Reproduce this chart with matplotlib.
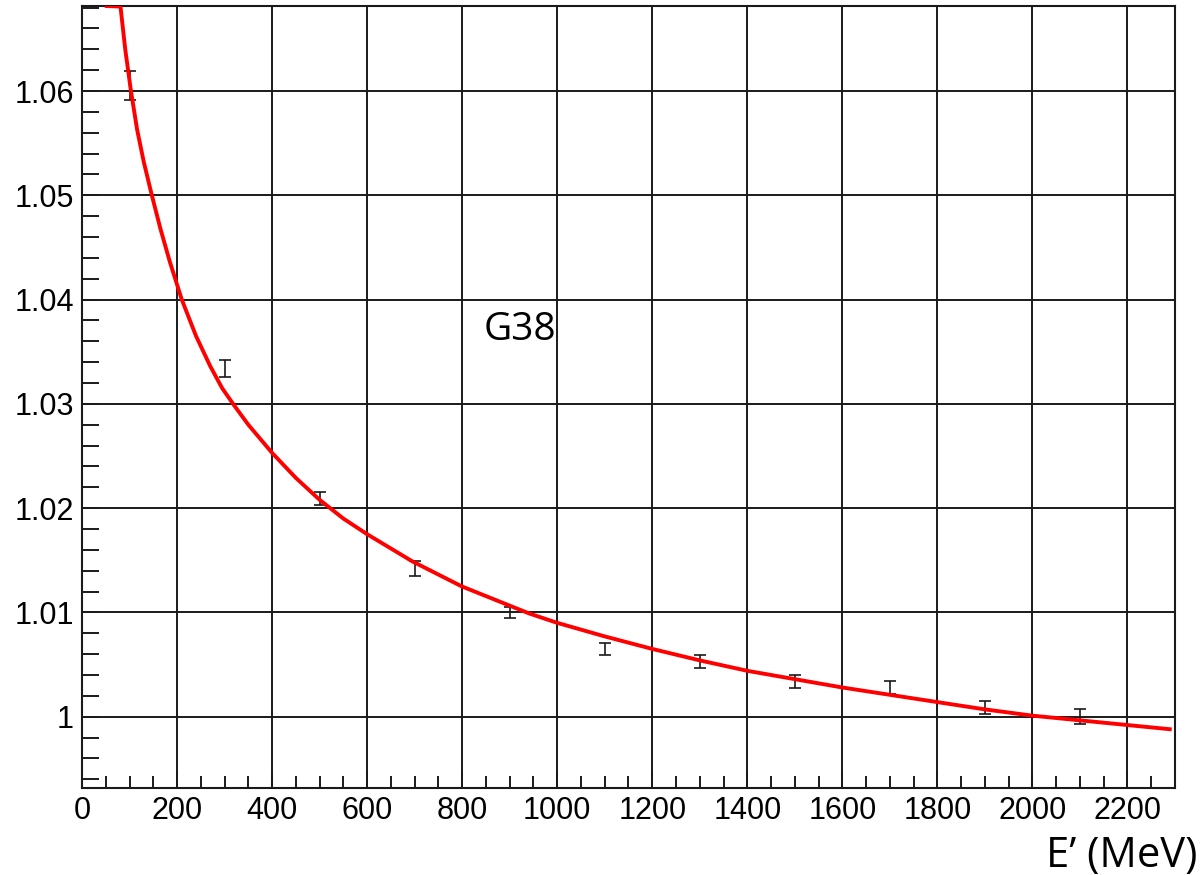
import numpy as np
import matplotlib
matplotlib.use("Agg")
import matplotlib.pyplot as plt
from matplotlib.ticker import MultipleLocator, FuncFormatter

# measured points, E' in MeV
e_pts = [100, 300, 500, 700, 900, 1100, 1300, 1500, 1700, 1900, 2100]
r_pts = [1.0605, 1.0334, 1.0209, 1.0142, 1.0100, 1.0065, 1.0053, 1.0034, 1.0028, 1.0009, 1.0000]
r_err = [0.0014, 0.0008, 0.0006, 0.0007, 0.0005, 0.0006, 0.0006, 0.0006, 0.0006, 0.0006, 0.0007]

# fitted curve
e_fit = [52, 81, 91, 103, 116, 130, 147, 165, 185, 210, 240, 270, 295, 321, 350,
         400, 450, 500, 550, 600, 695, 799, 941, 1000, 1100, 1200, 1300, 1400, 1500,
         1600, 1700, 1800, 1900, 2000, 2100, 2200, 2289]
r_fit = [1.0760, 1.0681, 1.0640, 1.0600, 1.0563, 1.0532, 1.0500, 1.0468, 1.0436, 1.0400,
         1.0365, 1.0336, 1.0315, 1.0298, 1.0280, 1.0253, 1.0229, 1.0208, 1.0190, 1.0175,
         1.0149, 1.0125, 1.0099, 1.0090, 1.0077, 1.0065, 1.0054, 1.0044, 1.0036, 1.0028,
         1.0021, 1.0014, 1.0007, 1.0001, 0.99965, 0.9992, 0.9988]

xmin, xmax = 0, 2300
ymin, ymax = 0.99316, 1.06815

fig = plt.figure(figsize=(12.04, 8.75), dpi=100)
ax = fig.add_axes([0.0681, 0.0994, 0.9078, 0.8937])

ax.set_xlim(xmin, xmax)
ax.set_ylim(ymin, ymax)

# ROOT clamps the function to the frame
ax.plot(e_fit, np.minimum(r_fit, ymax), color="#ff0000", lw=2.8, zorder=4)
ax.errorbar(e_pts, r_pts, yerr=r_err, fmt="none", ecolor="#1a1a1a",
            elinewidth=1.2, capsize=4.5, capthick=1.2, zorder=3)

ax.xaxis.set_major_locator(MultipleLocator(200))
ax.xaxis.set_minor_locator(MultipleLocator(50))
ax.yaxis.set_major_locator(MultipleLocator(0.01))
ax.yaxis.set_minor_locator(MultipleLocator(0.002))
ax.yaxis.set_major_formatter(FuncFormatter(lambda v, p: f"{v:g}"))

ax.grid(True, which="major", color="#1a1a1a", lw=1.4)
ax.set_axisbelow(True)

for s in ax.spines.values():
    s.set_linewidth(1.5)
    s.set_color("#1a1a1a")

ax.tick_params(which="both", direction="in", width=1.4, color="#1a1a1a",
               labelsize=22, top=False, right=False)
ax.tick_params(axis="y", which="both", length=12, pad=6)
ax.tick_params(axis="x", which="major", length=12, pad=6)
ax.tick_params(axis="x", which="minor", length=8.5)
for lab in ax.get_xticklabels() + ax.get_yticklabels():
    lab.set_family("Liberation Sans")

ax.set_xlabel("E\u2019 (MeV)", fontsize=30, family="Open Sans", loc="right")
ax.xaxis.set_label_coords(1.0201, -0.1006)
ax.xaxis.label.set_verticalalignment("baseline")
ax.xaxis.label.set_horizontalalignment("right")

ax.text(0.3678, 0.5729, "G38", transform=ax.transAxes, fontsize=28,
        family="Open Sans", va="baseline", ha="left")

fig.savefig("out.png", dpi=100)
